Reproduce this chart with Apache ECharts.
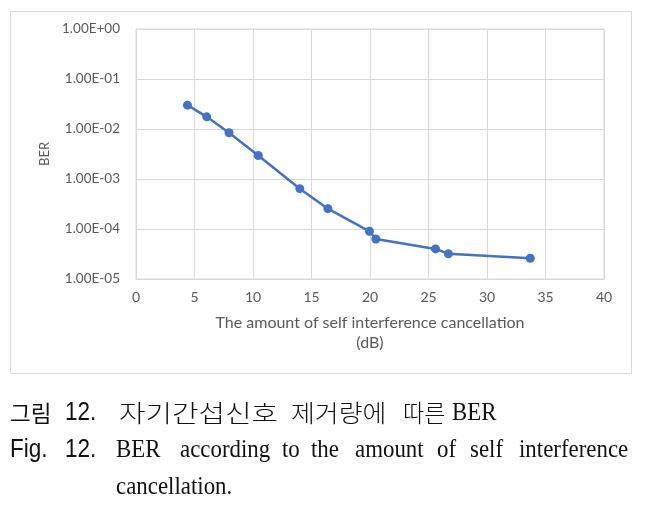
<!DOCTYPE html>
<html>
<head>
<meta charset="utf-8">
<script src="https://cdn.jsdelivr.net/npm/echarts@6/dist/echarts.min.js"></script>
<style>
html,body{margin:0;padding:0;background:#fff;}
#c{width:650px;height:505px;}
</style>
</head>
<body>
<div id="c"></div>
<script>
// Data
var cancellationDb = [4.4, 6.05, 7.95, 10.45, 14.0, 16.4, 19.95, 20.5, 25.6, 26.7, 33.7];
var berValues = [3.0e-2, 1.75e-2, 8.4e-3, 2.95e-3, 6.4e-4, 2.55e-4, 9.0e-5, 6.3e-5, 4.0e-5, 3.2e-5, 2.6e-5];
var xTicks = [0, 5, 10, 15, 20, 25, 30, 35, 40];
var yTickLabels = ['1.00E-05', '1.00E-04', '1.00E-03', '1.00E-02', '1.00E-01', '1.00E+00'];
var xAxisTitle = 'The amount of self interference cancellation\n(dB)';
var yAxisTitle = 'BER';
var captionKoLabel = ['그림', '12.'];
var captionKoWords = ['자기간섭신호', '제거량에', '따른'];
var captionKoTail = 'BER';
var captionEnLabel = ['Fig.', '12.'];
var captionEnWords = ['BER', 'according', 'to', 'the', 'amount', 'of', 'self', 'interference'];
var captionEnLast = 'cancellation.';

var seriesData = cancellationDb.map(function (x, i) { return [x, berValues[i]]; });

function fmtExp(v) {
  var e = Math.round(Math.log10(v));
  var s = e < 0 ? '-' : '+';
  var a = Math.abs(e);
  var label = '1.00E' + s + (a < 10 ? '0' : '') + a;
  return yTickLabels.indexOf(label) >= 0 ? label : '';
}

var chartFont = 'Lato, "Open Sans", sans-serif';
var gridColor = '#d9d9d9';
var textColor = '#595959';
var capColor = '#111';

var chart = echarts.init(document.getElementById('c'), null, { renderer: 'canvas' });

function txt(x, y, s, font, sx) {
  return { type: 'text', x: x, y: y, scaleX: sx, style: { text: s, font: font, fill: capColor, verticalAlign: 'middle' } };
}
var serif = '26px "Liberation Serif"';
var koFont = '300 24px "Noto Sans CJK KR"';
var koWordX = [119, 291, 403];
var koWordScale = [1.2, 1.08, 0.96];
var enWordX = [116, 180, 282, 311, 355, 437, 470, 519];
var graphics = [
  { type: 'rect', shape: { x: 10.5, y: 11.5, width: 621, height: 362 }, style: { fill: 'none', stroke: gridColor, lineWidth: 1 }, z: -1 },
  txt(10, 413, captionKoLabel[0], '23px "Noto Sans CJK KR"', 0.98),
  txt(65, 413, captionKoLabel[1], '25px "Liberation Sans"', 0.9),
  txt(452, 413, captionKoTail, serif, 0.88),
  txt(10, 450, captionEnLabel[0], '25px "Liberation Sans"', 0.9),
  txt(65, 450, captionEnLabel[1], '25px "Liberation Sans"', 0.9)
];
captionKoWords.forEach(function (w, i) {
  graphics.push(txt(koWordX[i], 413, w, koFont, koWordScale[i]));
});
captionEnWords.forEach(function (w, i) {
  graphics.push(txt(enWordX[i], 450, w, serif, 0.88));
});
graphics.push(txt(116, 487, captionEnLast, serif, 0.88));

chart.setOption({
  animation: false,
  backgroundColor: '#fff',
  grid: { left: 136, right: 46, top: 29, bottom: 226, show: true, borderColor: gridColor, borderWidth: 1 },
  xAxis: {
    type: 'value', min: 0, max: 40, interval: 5,
    axisLine: { show: true, lineStyle: { color: gridColor } },
    axisTick: { show: false },
    splitLine: { show: true, lineStyle: { color: gridColor, width: 1 } },
    axisLabel: { color: textColor, fontFamily: chartFont, fontSize: 14, margin: 11,
      formatter: function (v) { return xTicks.indexOf(v) >= 0 ? String(v) : ''; } },
    name: xAxisTitle, nameLocation: 'middle', nameGap: 34,
    nameTextStyle: { color: textColor, fontFamily: chartFont, fontSize: 16, lineHeight: 20 }
  },
  yAxis: {
    type: 'log', logBase: 10, min: 1e-5, max: 1,
    axisLine: { show: true, lineStyle: { color: gridColor } },
    axisTick: { show: false },
    splitLine: { show: true, lineStyle: { color: gridColor, width: 1 } },
    axisLabel: { color: textColor, fontFamily: chartFont, fontSize: 13.5, margin: 16, formatter: fmtExp },
    name: yAxisTitle, nameLocation: 'middle', nameGap: 85, nameRotate: 90,
    nameTextStyle: { color: textColor, fontFamily: chartFont, fontSize: 13 }
  },
  series: [{
    type: 'line', data: seriesData,
    symbol: 'circle', symbolSize: 9,
    lineStyle: { color: '#4472C4', width: 2.5 },
    itemStyle: { color: '#4472C4' }
  }],
  graphic: graphics
});
</script>
</body>
</html>
